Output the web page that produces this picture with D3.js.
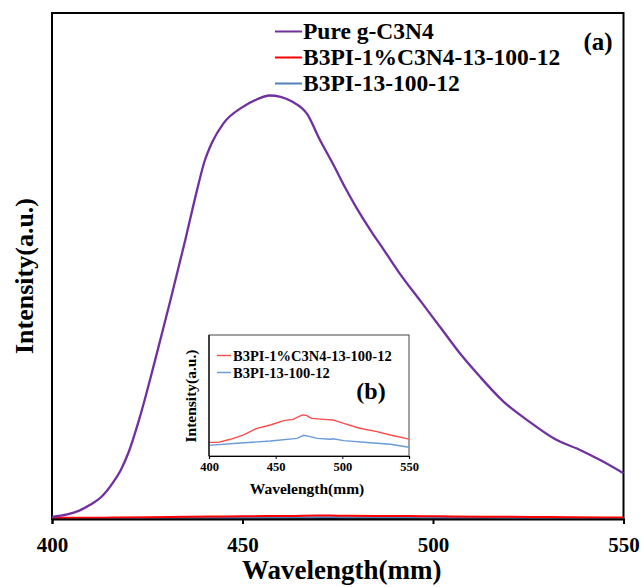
<!DOCTYPE html>
<html>
<head>
<meta charset="utf-8">
<script src="https://cdn.jsdelivr.net/npm/d3@7"></script>
<style>
  html, body { margin: 0; padding: 0; background: #fff; }
  svg { display: block; }
  text { font-family: "Liberation Serif", "Times New Roman", serif; font-weight: bold; fill: #000; }
</style>
</head>
<body>
<svg id="chart" width="642" height="587"></svg>
<script>
// Photoluminescence spectra (arbitrary intensity units)
const wavelengthTicks = [400, 450, 500, 550];

const pureWavelength = [400, 404, 407, 410, 413, 416, 418, 420, 423, 427, 431, 435, 438, 440, 442, 445, 450, 454, 457, 460, 463, 467, 470, 474, 477, 480, 484, 487, 491, 497, 502, 507, 512, 518.5, 525, 532, 539, 544, 550];
const pureIntensity  = [20, 45, 80, 140, 220, 360, 480, 650, 1000, 1560, 2150, 2760, 3240, 3530, 3720, 3910, 4070, 4150, 4185, 4172, 4125, 4000, 3770, 3490, 3270, 3070, 2830, 2665, 2440, 2140, 1890, 1640, 1420, 1160, 970, 790, 675, 580, 452];

const compWavelength = [400, 407, 416, 426, 436, 446, 456, 463, 470, 473, 477, 486, 493, 501, 513, 526, 536, 550];
const compIntensity  = [11.3, 11.3, 13.8, 17.4, 22.9, 25.6, 29.2, 30.3, 33.9, 33.6, 31.1, 30.3, 29.8, 27.0, 22.9, 20.1, 17.4, 14.0];

const bareWavelength = [400, 421, 446, 466, 471, 476, 481, 491, 493, 501, 521, 536, 550];
const bareIntensity  = [8.8, 10.5, 12.4, 14.6, 17.1, 16.0, 14.6, 13.8, 14.3, 12.7, 11.0, 9.7, 7.2];

const seriesNames  = ["Pure g-C3N4", "B3PI-1%C3N4-13-100-12", "B3PI-13-100-12"];
const seriesColors = ["#7030A0", "#FF0000", "#4F81BD"];
const insetNames   = ["B3PI-1%C3N4-13-100-12", "B3PI-13-100-12"];
const insetColors  = ["#FF4A4A", "#6A9BD6"];

const series = [
  { x: pureWavelength, y: pureIntensity },
  { x: compWavelength, y: compIntensity },
  { x: bareWavelength, y: bareIntensity }
].map(s => s.x.map((w, i) => ({ w, v: s.y[i] })));

const svg = d3.select("#chart");

// ---------- main panel (a) ----------
const M = { left: 52, right: 623.5, top: 13, bottom: 519 };
const x = d3.scaleLinear().domain([400, 550]).range([M.left, M.right]);
const y = d3.scaleLinear().domain([0, 5000]).range([M.bottom, M.top]);

svg.append("rect")
  .attr("x", M.left).attr("y", M.top)
  .attr("width", M.right - M.left).attr("height", M.bottom - M.top)
  .attr("fill", "#fff").attr("stroke", "#000").attr("stroke-width", 2);

const line = d3.line().curve(d3.curveMonotoneX).x(d => x(d.w)).y(d => y(d.v));

// draw low-intensity series first, purple on top
[2, 1, 0].forEach(i => {
  svg.append("path")
    .datum(series[i])
    .attr("fill", "none")
    .attr("stroke", seriesColors[i])
    .attr("stroke-width", i === 0 ? 2.3 : 2)
    .attr("stroke-linejoin", "round")
    .attr("d", line);
});

const xAxis = svg.append("g")
  .attr("transform", `translate(0,${M.bottom})`)
  .call(d3.axisBottom(x).tickValues(wavelengthTicks).tickSize(5).tickFormat(d3.format("d")));
xAxis.select(".domain").attr("stroke", "#000").attr("stroke-width", 2);
xAxis.selectAll(".tick line").attr("stroke", "#000").attr("stroke-width", 2);
xAxis.selectAll(".tick text")
  .attr("y", 33).attr("dy", null)
  .style("font-family", "'Liberation Serif', serif")
  .style("font-weight", "bold")
  .style("font-size", "21px")
  .attr("fill", "#000");

svg.append("text")
  .attr("x", (M.left + M.right) / 2 + 4).attr("y", 579)
  .attr("text-anchor", "middle")
  .style("font-size", "27px")
  .text("Wavelength(mm)");

svg.append("text")
  .attr("transform", "translate(33,276) rotate(-90)")
  .attr("text-anchor", "middle")
  .style("font-size", "26px")
  .text("Intensity(a.u.)");

// legend
const legend = svg.append("g");
seriesNames.forEach((name, i) => {
  const base = 39 + i * 26;
  legend.append("line")
    .attr("x1", 275).attr("x2", 302)
    .attr("y1", base - 7.5).attr("y2", base - 7.5)
    .attr("stroke", seriesColors[i]).attr("stroke-width", 2);
  legend.append("text")
    .attr("x", 303).attr("y", base)
    .style("font-size", "23.5px")
    .text(name);
});

svg.append("text")
  .attr("x", 598).attr("y", 50)
  .attr("text-anchor", "middle")
  .style("font-size", "25px")
  .text("(a)");

// ---------- inset panel (b) ----------
const I = { left: 209, right: 409, top: 335, bottom: 456 };
const xi = d3.scaleLinear().domain([400, 550]).range([I.left, I.right]);
const yi = d3.scaleLinear().domain([0, 100]).range([I.bottom, I.top]);

svg.append("rect")
  .attr("x", I.left).attr("y", I.top)
  .attr("width", I.right - I.left).attr("height", I.bottom - I.top)
  .attr("fill", "#fff").attr("stroke", "#444").attr("stroke-width", 1);

const lineI = d3.line().x(d => xi(d.w)).y(d => yi(d.v));
[1, 2].forEach((s, k) => {
  svg.append("path")
    .datum(series[s])
    .attr("fill", "none")
    .attr("stroke", insetColors[k])
    .attr("stroke-width", 1.4)
    .attr("d", lineI);
});

const xAxisI = svg.append("g")
  .attr("transform", `translate(0,${I.bottom})`)
  .call(d3.axisBottom(xi).tickValues(wavelengthTicks).tickSize(3).tickFormat(d3.format("d")));
xAxisI.select(".domain").attr("stroke", "#000").attr("stroke-width", 1.2);
xAxisI.selectAll(".tick line").attr("stroke", "#000");
xAxisI.selectAll(".tick text")
  .attr("y", 15).attr("dy", null)
  .style("font-family", "'Liberation Serif', serif")
  .style("font-weight", "bold")
  .style("font-size", "12.5px")
  .attr("fill", "#000");

svg.append("line")
  .attr("x1", I.left).attr("x2", I.left)
  .attr("y1", I.top).attr("y2", I.bottom)
  .attr("stroke", "#000").attr("stroke-width", 1.2);

svg.append("text")
  .attr("x", (I.left + I.right) / 2 - 2).attr("y", 494)
  .attr("text-anchor", "middle")
  .style("font-size", "15.5px")
  .text("Wavelength(mm)");

svg.append("text")
  .attr("transform", "translate(196,396) rotate(-90)")
  .attr("text-anchor", "middle")
  .style("font-size", "15.5px")
  .text("Intensity(a.u.)");

insetNames.forEach((name, k) => {
  const base = 361 + k * 17;
  svg.append("line")
    .attr("x1", 217).attr("x2", 231)
    .attr("y1", base - 5.5).attr("y2", base - 5.5)
    .attr("stroke", insetColors[k]).attr("stroke-width", 1.4);
  svg.append("text")
    .attr("x", 233).attr("y", base)
    .style("font-size", "14.5px")
    .text(name);
});

svg.append("text")
  .attr("x", 371).attr("y", 399)
  .attr("text-anchor", "middle")
  .style("font-size", "24px")
  .text("(b)");
</script>
</body>
</html>
